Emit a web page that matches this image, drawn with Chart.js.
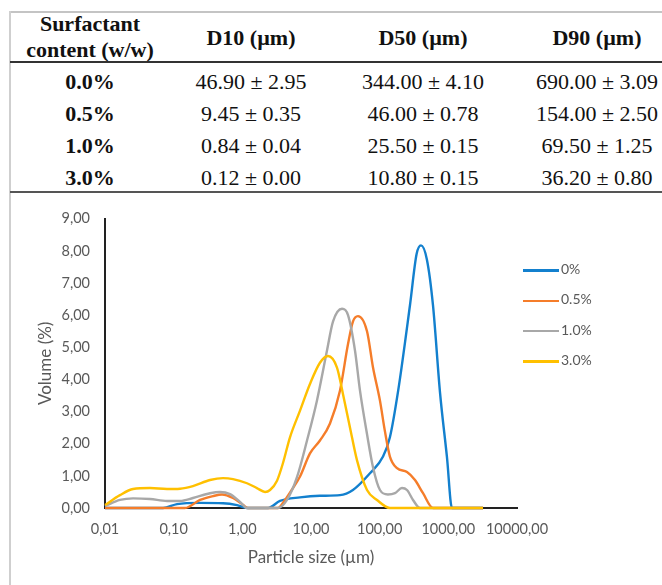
<!DOCTYPE html>
<html>
<head>
<meta charset="utf-8">
<script src="https://cdn.jsdelivr.net/npm/chart.js@4.4.1/dist/chart.umd.min.js"></script>
<style>
  html, body { margin: 0; padding: 0; background: #fff; }
  #page { position: relative; width: 662px; height: 585px; overflow: hidden; }
  .rule { position: absolute; left: 10px; right: 0; }
  .cell {
    position: absolute; width: 200px; margin-left: -100px; text-align: center;
    font-family: 'Liberation Serif', 'Times New Roman', serif;
    font-size: 22px; line-height: 26px; color: #111; white-space: nowrap;
  }
  .bold { font-weight: bold; }
  #chart { position: absolute; left: 11px; top: 195px; }
  .legend-item {
    position: absolute; left: 523px; height: 20px; line-height: 20px;
    font-family: Lato, 'Open Sans', sans-serif; font-size: 14px; color: #595959; white-space: nowrap;
  }
  .legend-line { display: inline-block; width: 36px; height: 2.5px; vertical-align: middle; margin-right: 2px; }
</style>
</head>
<body>
<div id="page">
  <div class="rule" style="top:11px;height:2px;background:#c4c4c4;"></div>
  <div style="position:absolute;left:9px;top:11px;width:1.5px;height:574px;background:#cfcfcf;"></div>
  <div class="rule" style="top:61px;height:2px;background:#333;"></div>
  <div class="rule" style="top:191px;height:1.5px;background:#555;"></div>
  <div id="table"></div>
  <canvas id="chart" width="651" height="390"></canvas>
  <div id="legend"></div>
</div>
<script>
// Table values
const headers = ['Surfactant\ncontent (w/w)', 'D10 (µm)', 'D50 (µm)', 'D90 (µm)'];
const surfactant = ['0.0%', '0.5%', '1.0%', '3.0%'];
const d10 = ['46.90 ± 2.95', '9.45 ± 0.35', '0.84 ± 0.04', '0.12 ± 0.00'];
const d50 = ['344.00 ± 4.10', '46.00 ± 0.78', '25.50 ± 0.15', '10.80 ± 0.15'];
const d90 = ['690.00 ± 3.09', '154.00 ± 2.50', '69.50 ± 1.25', '36.20 ± 0.80'];

// Chart values: particle size (µm) and volume (%)
const size0 = [0.01, 0.07, 0.112, 0.242, 0.523, 0.836, 1.17, 2.37, 3.53, 6.92, 13.5, 26.4, 40.8, 72.3, 112, 141, 186, 276, 345, 400, 487, 598, 756, 955, 1130, 3200];
const vol0 = [0, 0, 0.12, 0.16, 0.15, 0.09, 0, 0, 0.22, 0.33, 0.38, 0.4, 0.56, 1.08, 1.6, 2.2, 3.65, 6.3, 7.9, 8.17, 7.73, 6.3, 3.6, 1.58, 0, 0];

const size05 = [0.01, 0.146, 0.242, 0.374, 0.506, 0.731, 1.02, 1.21, 3.3, 4.18, 4.94, 6.92, 9.66, 13.5, 18.9, 26.4, 34.6, 40.8, 48.3, 65.4, 80, 101, 119, 141, 179, 250, 327, 428, 598, 3200];
const vol05 = [0, 0, 0.25, 0.37, 0.42, 0.31, 0.1, 0, 0, 0.25, 0.48, 0.98, 1.7, 2.1, 2.63, 3.65, 5.1, 5.8, 5.97, 5.5, 4.37, 3.34, 2.4, 1.6, 1.24, 1.12, 0.87, 0.46, 0, 0];

const size10 = [0.01, 0.0165, 0.0256, 0.0452, 0.08, 0.124, 0.191, 0.338, 0.473, 0.661, 0.925, 1.17, 3.3, 4.47, 6.25, 8.75, 12.2, 17.1, 20.9, 28.3, 34.6, 43.7, 51.7, 65.4, 80, 101, 132, 167, 211, 250, 306, 386, 3200];
const vol10 = [0.06, 0.25, 0.3, 0.28, 0.22, 0.22, 0.31, 0.46, 0.5, 0.43, 0.19, 0, 0, 0.25, 0.96, 2.1, 3.34, 4.9, 5.8, 6.2, 6.0, 4.9, 3.65, 2.3, 1.27, 0.56, 0.42, 0.46, 0.62, 0.56, 0.25, 0, 0];

const size30 = [0.01, 0.0165, 0.0256, 0.0452, 0.08, 0.124, 0.191, 0.338, 0.523, 0.731, 1.17, 1.63, 2.14, 2.53, 3.2, 3.91, 4.94, 6.92, 9.66, 13.5, 17.7, 23.9, 29.2, 37, 46.8, 65.4, 91.4, 141, 3200];
const vol30 = [0.09, 0.4, 0.59, 0.62, 0.59, 0.6, 0.68, 0.87, 0.93, 0.9, 0.77, 0.62, 0.5, 0.56, 0.85, 1.4, 2.2, 3.03, 3.86, 4.52, 4.73, 4.37, 3.55, 2.5, 1.48, 0.56, 0.25, 0, 0];

const seriesLabels = ['0%', '0.5%', '1.0%', '3.0%'];
const seriesColors = ['#1380ce', '#f57d2a', '#a8a8a8', '#ffc000'];
const sizeTicks = [0.01, 0.1, 1, 10, 100, 1000, 10000];

// Put a centered text cell at (cx, cy)
function addCell(text, cx, cy, bold) {
  const el = document.createElement('div');
  el.className = 'cell' + (bold ? ' bold' : '');
  const lines = text.split('\n');
  el.style.left = cx + 'px';
  el.style.top = (cy - 13 * lines.length) + 'px';
  el.innerHTML = lines.join('<br>');
  document.getElementById('table').appendChild(el);
}

const colX = [90, 251, 423, 597];
addCell(headers[0], colX[0], 37, true);
for (let c = 1; c < 4; c++) addCell(headers[c], colX[c], 38, true);
surfactant.forEach((s, i) => {
  const cy = 82 + i * 32;
  addCell(s, colX[0], cy, true);
  addCell(d10[i], colX[1], cy, false);
  addCell(d50[i], colX[2], cy, false);
  addCell(d90[i], colX[3], cy, false);
});

// Legend (right side of chart)
const legend = document.getElementById('legend');
seriesLabels.forEach((label, i) => {
  const item = document.createElement('div');
  item.className = 'legend-item';
  item.style.top = (259 + i * 30.3) + 'px';
  item.innerHTML = `<span class="legend-line" style="background:${seriesColors[i]}"></span>${label}`;
  legend.appendChild(item);
});

function formatComma(v) {
  return Number(v).toFixed(2).replace('.', ',');
}

const allSizes = [size0, size05, size10, size30];
const allVols = [vol0, vol05, vol10, vol30];

const datasets = seriesLabels.map((label, i) => ({
  label: label,
  data: allSizes[i].map((x, j) => ({ x: x, y: allVols[i][j] })),
  borderColor: seriesColors[i],
  backgroundColor: seriesColors[i],
  borderWidth: 2.4,
  pointRadius: 0,
  fill: false,
  clip: false,
  cubicInterpolationMode: 'monotone',
  order: 4 - i // later series on top, like Excel
}));

const tickFont = { family: 'Lato', size: 14.5 };
const titleFont = { family: 'Lato', size: 17 };

new Chart(document.getElementById('chart').getContext('2d'), {
  type: 'line',
  data: { datasets: datasets },
  options: {
    responsive: false,
    animation: false,
    layout: { padding: { left: 0, right: 145, top: 22, bottom: 0 } },
    plugins: { legend: { display: false }, tooltip: { enabled: false } },
    scales: {
      x: {
        type: 'logarithmic',
        min: 0.01,
        max: 10000,
        afterBuildTicks: function (scale) {
          scale.ticks = sizeTicks.map(v => ({ value: v }));
        },
        afterFit: function (scale) { scale.height = 77; },
        grid: { display: false, drawTicks: false },
        border: { display: true, color: '#222', width: 2 },
        ticks: {
          padding: 13,
          color: '#595959',
          font: tickFont,
          maxRotation: 0,
          autoSkip: false,
          callback: function (value) { return formatComma(value); }
        },
        title: {
          display: true,
          text: 'Particle size (µm)',
          color: '#595959',
          font: titleFont,
          padding: { top: 0, bottom: 17 }
        }
      },
      y: {
        min: 0,
        max: 9,
        afterFit: function (scale) { scale.width = 94; },
        grid: { display: false, drawTicks: false },
        border: { display: true, color: '#222', width: 2 },
        ticks: {
          stepSize: 1,
          padding: 15,
          color: '#595959',
          font: tickFont,
          callback: function (value) { return formatComma(value); }
        },
        title: {
          display: true,
          text: 'Volume (%)',
          color: '#595959',
          font: titleFont,
          padding: { top: 24, bottom: 0 }
        }
      }
    }
  }
});
</script>
</body>
</html>
